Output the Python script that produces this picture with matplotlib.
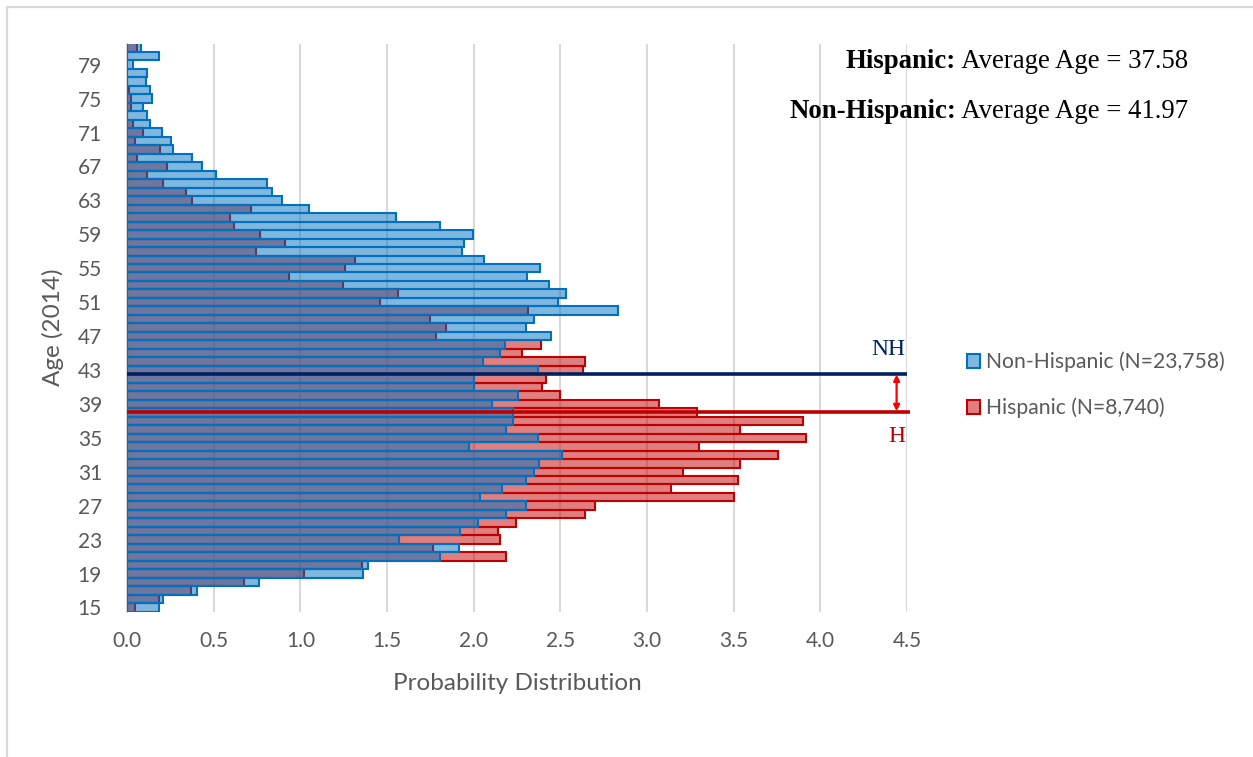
import matplotlib
matplotlib.use("Agg")
import matplotlib.pyplot as plt
from matplotlib.lines import Line2D
from matplotlib.patches import Patch

ages = list(range(15, 82))
non_hispanic = [0.186, 0.210, 0.406, 0.764, 1.364, 1.393, 1.806, 1.914, 1.571, 1.923,
                2.023, 2.184, 2.303, 2.035, 2.161, 2.300, 2.347, 2.376, 2.509, 1.973,
                2.370, 2.184, 2.226, 2.226, 2.107, 2.255, 2.000, 2.000, 2.370, 2.054,
                2.150, 2.179, 2.448, 2.302, 2.349, 2.830, 2.486, 2.534, 2.433, 2.309,
                2.380, 2.057, 1.934, 1.943, 1.998, 1.808, 1.550, 1.049, 0.895, 0.839,
                0.808, 0.511, 0.431, 0.374, 0.266, 0.255, 0.203, 0.132, 0.115, 0.090,
                0.146, 0.132, 0.109, 0.115, 0.033, 0.186, 0.080]
hispanic = [0.046, 0.186, 0.369, 0.677, 1.023, 1.354, 2.184, 1.766, 2.153, 2.142,
            2.244, 2.645, 2.702, 3.500, 3.136, 3.526, 3.205, 3.536, 3.756, 3.298,
            3.916, 3.536, 3.902, 3.286, 3.067, 2.499, 2.395, 2.415, 2.631, 2.645,
            2.278, 2.389, 1.784, 1.841, 1.748, 2.311, 1.461, 1.565, 1.245, 0.936,
            1.258, 1.313, 0.744, 0.914, 0.766, 0.618, 0.592, 0.717, 0.377, 0.339,
            0.205, 0.113, 0.228, 0.057, 0.192, 0.048, 0.090, 0.033, 0.000, 0.023,
            0.023, 0.013, 0.000, 0.000, 0.000, 0.000, 0.056]
ytick_ages = list(range(15, 80, 4))
xticks = [0.0, 0.5, 1.0, 1.5, 2.0, 2.5, 3.0, 3.5, 4.0, 4.5]
nh_avg = 41.97
h_avg = 37.58
nh_line_pos = 42.57
h_line_pos = 38.04
nh_label = "Non-Hispanic (N=23,758)"
h_label = "Hispanic (N=8,740)"

W, H = 1253, 757
fig = plt.figure(figsize=(W / 100, H / 100), dpi=100)

# outer frame (left & top only)
fig.add_artist(Line2D([7 / W, 7 / W, 1.0], [0.0, 1 - 7 / H, 1 - 7 / H],
                      transform=fig.transFigure, color="#d9d9d9", lw=1.6))

ax = fig.add_axes([127 / W, 1 - 611.7 / H, (907 - 127) / W, (611.7 - 43.5) / H])

blue = "#0070c0"
red = "#c00000"
ax.barh(ages, hispanic, height=1.0, color=(0.753, 0.0, 0.0, 0.5),
        edgecolor=red, linewidth=1.5, zorder=2)
ax.barh(ages, non_hispanic, height=1.0, color=(0.0, 0.439, 0.753, 0.5),
        edgecolor=blue, linewidth=1.5, zorder=3)

ax.set_xlim(0, 4.5)
ax.set_ylim(14.5, 81.5)
ax.set_xticks(xticks)
ax.set_xticklabels([f"{v:.1f}" for v in xticks])
ax.set_yticks(ytick_ages)
ax.set_yticklabels([str(a) for a in ytick_ages])
ax.tick_params(length=0, labelsize=15, colors="#595959")
ax.tick_params(axis="y", pad=18)
ax.tick_params(axis="x", pad=14)
for lbl in ax.get_xticklabels() + ax.get_yticklabels():
    lbl.set_family("Lato")
ax.grid(axis="x", color="#d9d9d9", lw=1.5, zorder=0)
ax.set_axisbelow(True)
for s in ["top", "right", "bottom"]:
    ax.spines[s].set_visible(False)
ax.spines["left"].set_color("#d9d9d9")
ax.spines["left"].set_linewidth(1.5)

ax.set_xlabel("Probability Distribution", fontsize=17.5, color="#595959",
              family="Lato", labelpad=16)
ax.set_ylabel("Age (2014)", fontsize=17.5, color="#595959", family="Lato", labelpad=10)

# average lines
ax.plot([0, 4.5], [nh_line_pos, nh_line_pos], color="#002060", lw=2.6, zorder=5,
        solid_capstyle="butt")
ax.plot([0, 4.52], [h_line_pos, h_line_pos], color=red, lw=2.6, zorder=5,
        solid_capstyle="butt", clip_on=False)
ax.annotate("", xy=(4.44, h_line_pos + 0.1), xytext=(4.44, nh_line_pos - 0.1),
            arrowprops=dict(arrowstyle="<|-|>", color="#ff0000", lw=1.6,
                            mutation_scale=9, shrinkA=0, shrinkB=0),
            annotation_clip=False, zorder=6)
ax.text(4.49, nh_line_pos + 1.6, "NH", color="#002060", fontsize=17,
        family="Liberation Serif", ha="right", va="bottom")
ax.text(4.49, h_line_pos - 1.7, "H", color=red, fontsize=17,
        family="Liberation Serif", ha="right", va="top")

# legend
handles = [Patch(facecolor=(0.0, 0.439, 0.753, 0.5), edgecolor=blue, lw=1.5),
           Patch(facecolor=(0.753, 0.0, 0.0, 0.5), edgecolor=red, lw=1.5)]
leg = fig.legend(handles, [nh_label, h_label], loc="center left",
                 bbox_to_anchor=(948 / W, 1 - 385 / H), frameon=False,
                 prop={"family": "Lato", "size": 15.2}, labelcolor="#595959",
                 handlelength=0.62, handleheight=0.62, handletextpad=0.3,
                 labelspacing=1.2)

# top-right annotation text with bold prefix
fig.canvas.draw()
renderer = fig.canvas.get_renderer()
right_x = 1188 / W
lines = [("Hispanic:", f" Average Age = {h_avg:.2f}", 1 - 62 / H),
         ("Non-Hispanic:", f" Average Age = {nh_avg:.2f}", 1 - 112 / H)]
for bold, normal, yy in lines:
    t = fig.text(right_x, yy, normal, ha="right", va="center", fontsize=19.3,
                 family="Liberation Serif", color="black")
    bb = t.get_window_extent(renderer=renderer)
    fig.text(bb.x0 / W, yy, bold, ha="right", va="center", fontsize=19.3,
             family="Liberation Serif", weight="bold", color="black")

fig.savefig("out.png", dpi=100)
